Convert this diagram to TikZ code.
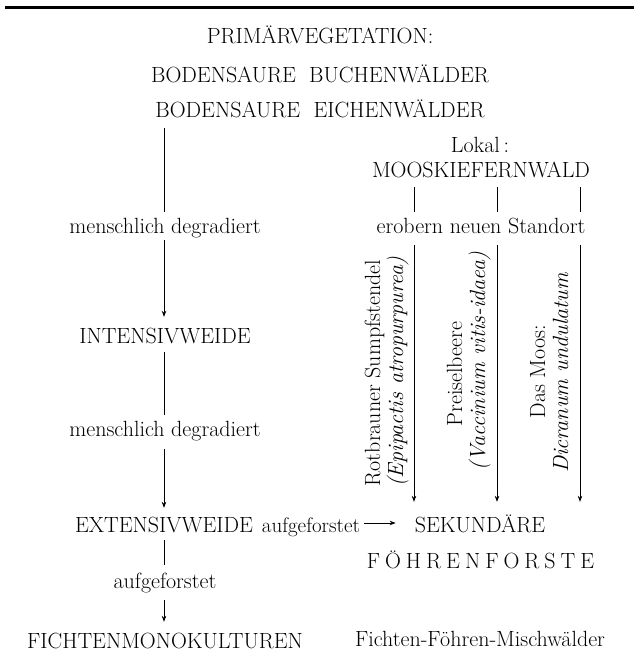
\documentclass[tikz,border=0pt]{standalone}
\usepackage{fontspec}
\usetikzlibrary{arrows.meta}
\begin{document}
\begin{tikzpicture}[x=1pt,y=-1pt,
  txt/.style={font=\fontsize{22}{26}\selectfont, inner sep=0pt, text height=15pt, text depth=5pt, anchor=base},
  rot/.style={font=\fontsize{22}{26}\selectfont, inner sep=0pt, rotate=90, anchor=base},
  ln/.style={line width=0.7pt},
  arr/.style={ln, -{Stealth[length=6pt,width=4.5pt]}}]
\useasboundingbox (0,0) rectangle (634,665);
\draw[line width=3pt] (5,7) -- (634,7);
% texts
\node[txt] (prim) at (320,43) {PRIMÄRVEGETATION:};
\node[txt] (buch) at (320,82) {BODENSAURE\ \ BUCHENWÄLDER};
\node[txt] (eich) at (320,117) {BODENSAURE\ \ EICHENWÄLDER};
\node[txt] (lokal) at (480,152) {Lokal\,:};
\node[txt] (moos) at (481,177) {MOOSKIEFERNWALD};
\node[txt] (md1) at (165,233) {menschlich degradiert};
\node[txt] (erob) at (481,233) {erobern neuen Standort};
\node[txt] (intw) at (165,343) {INTENSIVWEIDE};
\node[txt] (md2) at (165,436) {menschlich degradiert};
\node[txt] (extw) at (164,532) {EXTENSIVWEIDE};
\node[txt, font=\fontsize{21}{25}\selectfont] (auf1) at (311,532) {aufgeforstet};
\node[txt] (sek) at (480,532) {SEKUNDÄRE};
\node[txt] (foehr) at (480.5,568)
  {F\kern5ptÖ\kern5ptH\kern5ptR\kern5ptE\kern5ptN\kern5ptF\kern5ptO\kern5ptR\kern5ptS\kern5ptT\kern5ptE};
\node[txt] (auf2) at (165,588) {aufgeforstet};
\node[txt] (ficht) at (165,648) {FICHTENMONOKULTUREN};
\node[txt] (misch) at (480,646) {Fichten-Föhren-Mischwälder};
% rotated labels
\node[rot] (rs1) at (380,373) {Rotbrauner Sumpfstendel};
\node[rot] (rs2) at (403,372) {\itshape (Epipactis atropurpurea)};
\node[rot] (pb1) at (462,374) {Preiselbeere};
\node[rot] (pb2) at (485,361) {\itshape (Vaccinium vitis-idaea)};
\node[rot] (dm1) at (545,372) {Das Moos:};
\node[rot] (dm2) at (568,373) {\itshape Dicranum undulatum};
% left column
\coordinate (c0) at (164,128);
\draw[ln, shorten >=6pt] (c0) -- (c0 |- md1.north);
\draw[arr, shorten <=2pt, shorten >=11pt] (c0 |- md1.south) -- (c0 |- intw.north);
\draw[ln, shorten <=4pt, shorten >=6pt] (c0 |- intw.south) -- (c0 |- md2.north);
\draw[arr, shorten <=8pt, shorten >=9pt] (c0 |- md2.south) -- (c0 |- extw.north);
\draw[ln, shorten <=3pt, shorten >=8pt] (c0 |- extw.south) -- (c0 |- auf2.north);
\draw[arr, shorten <=7pt, shorten >=11pt] (c0 |- auf2.south) -- (c0 |- ficht.north);
% right column
\coordinate (k1) at (414,0);
\coordinate (k2) at (497,0);
\coordinate (k3) at (580,0);
\foreach \k in {k1,k2,k3}{
  \draw[ln, shorten <=5pt, shorten >=6pt] (moos.south -| \k) -- (erob.north -| \k);
  \draw[arr, shorten <=7pt, shorten >=15pt] (erob.south -| \k) -- (sek.north -| \k);
}
\draw[arr, shorten <=4pt, shorten >=19pt] ([yshift=9pt]auf1.base east) -- ([yshift=9pt]sek.base west);
\end{tikzpicture}
\end{document}
